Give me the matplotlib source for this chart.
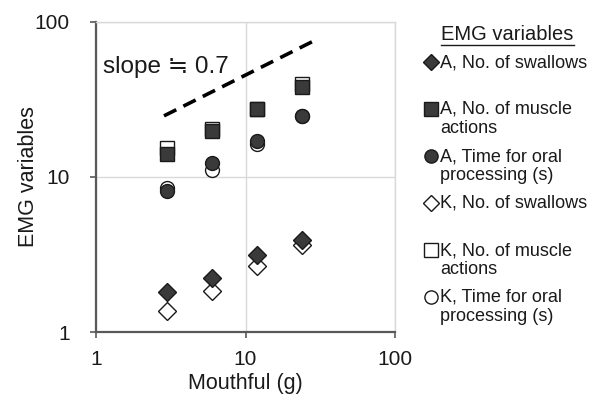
import matplotlib
matplotlib.use("Agg")
import matplotlib.pyplot as plt
from matplotlib.lines import Line2D

plt.rcParams['font.family'] = ['Liberation Sans', 'DejaVu Sans']

mouthful = [3, 6, 12, 24]

a_swallows = [1.81, 2.23, 3.14, 3.92]
a_muscle = [14.0, 19.8, 27.5, 38.0]
a_time = [8.1, 12.4, 17.1, 24.8]
k_swallows = [1.36, 1.84, 2.67, 3.64]
k_muscle = [15.3, 20.3, 27.5, 40.0]
k_time = [8.5, 11.1, 16.3, 24.6]

slope_x = [2.85, 29]
slope_y = [24.8, 76]

labels = ["A, No. of swallows", "A, No. of muscle\nactions",
          "A, Time for oral\nprocessing (s)", "K, No. of swallows",
          "K, No. of muscle\nactions", "K, Time for oral\nprocessing (s)"]

dark = '#3a3a3a'
edge = '#1a1a1a'
txt = '#1a1a1a'

fig = plt.figure(figsize=(5.91, 3.96), dpi=100)
W, H = 591, 396
ax = fig.add_axes([96 / W, 1 - 332 / H, (395 - 96) / W, (332 - 22) / H])
ax.set_xscale('log')
ax.set_yscale('log')
ax.set_xlim(1, 100)
ax.set_ylim(1, 100)

ax.grid(True, which='major', color='#d9d9d9', lw=1)
ax.minorticks_off()
ax.set_axisbelow(True)
for s in ['top', 'right']:
    ax.spines[s].set_color('#d9d9d9')
    ax.spines[s].set_linewidth(1)
for s in ['left', 'bottom']:
    ax.spines[s].set_color('#595959')
    ax.spines[s].set_linewidth(1.6)
ax.tick_params(which='major', direction='out', length=4, width=1.2,
               color='#595959', labelsize=15, labelcolor=txt)
ax.tick_params(axis='y', pad=15)
ax.tick_params(axis='x', pad=9)
ax.set_xticks([1, 10, 100])
ax.set_xticklabels(['1', '10', '100'])
ax.set_yticks([1, 10, 100])
ax.set_yticklabels(['1', '10', '100'])

ax.set_xlabel('Mouthful (g)', fontsize=15.5, labelpad=3, color=txt)
ax.set_ylabel('EMG variables', fontsize=15.5, labelpad=-3, color=txt)

ms = 10
styles = [
    (a_swallows, 'D', dark, ms * 0.9),
    (a_muscle, 's', dark, ms),
    (a_time, 'o', dark, ms),
    (k_swallows, 'D', 'white', ms * 0.9),
    (k_muscle, 's', 'white', ms),
    (k_time, 'o', 'white', ms),
]
# open (K) markers underneath, filled (A) on top
for vals, m, fc, size in styles[3:] + styles[:3]:
    ax.plot(mouthful, vals, ls='none', marker=m, ms=size, mfc=fc,
            mec=edge, mew=1.0, zorder=3 if fc == 'white' else 4)

ax.plot(slope_x, slope_y, color='black', lw=2.6, dashes=(3.8, 2.2), zorder=2)
ax.text(1.11, 51, 'slope ≒ 0.7', fontsize=17.5, va='center', ha='left',
        color=txt)

# legend
fig.text(507 / W, 1 - 34 / H, 'EMG variables', fontsize=14.5,
         ha='center', va='center', color=txt)
fig.add_artist(Line2D([441 / W, 574 / W], [1 - 45 / H, 1 - 45 / H],
                      color=txt, lw=1, transform=fig.transFigure))
y0, dy = 62, 47
for i, ((vals, m, fc, size), lab) in enumerate(zip(styles, labels)):
    y = y0 + dy * i
    fig.add_artist(Line2D([431 / W], [1 - y / H], marker=m, ls='none',
                          ms=size * 0.95, mfc=fc, mec=edge, mew=1.0,
                          transform=fig.transFigure))
    fig.text(440 / W, 1 - (y - 8) / H, lab, fontsize=13, ha='left',
             va='top', linespacing=1.12, color=txt)

fig.savefig('out.png', dpi=100)
